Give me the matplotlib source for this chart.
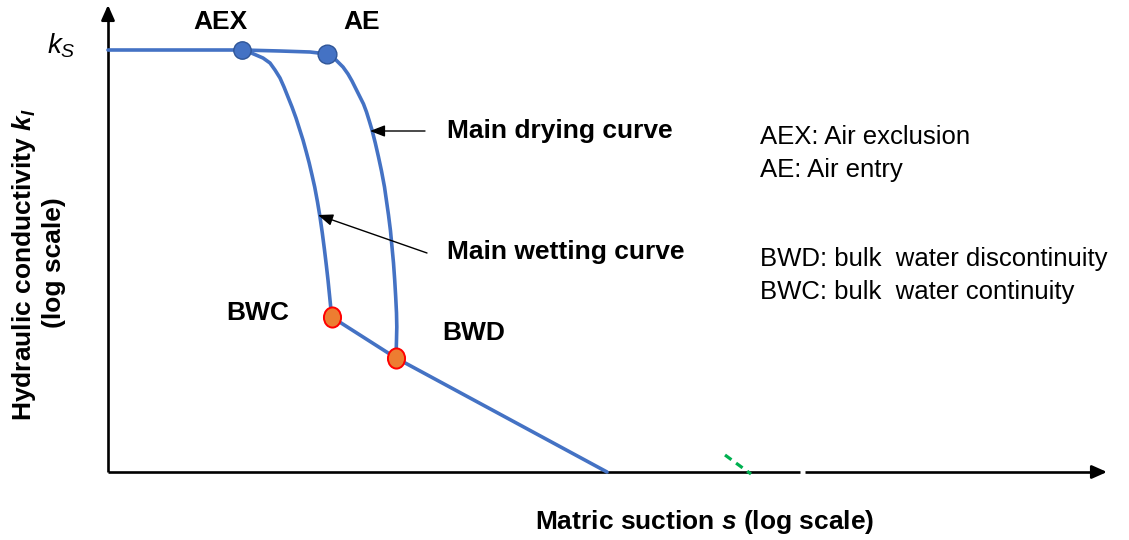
import matplotlib
matplotlib.use("Agg")
import matplotlib.pyplot as plt
from matplotlib.path import Path
from matplotlib.transforms import Affine2D

plt.rcParams["font.family"] = ["Liberation Sans", "DejaVu Sans"]
plt.rcParams["mathtext.fontset"] = "custom"
plt.rcParams["mathtext.rm"] = "Liberation Sans"
plt.rcParams["mathtext.it"] = "Liberation Sans:italic"
plt.rcParams["mathtext.bf"] = "Liberation Sans:bold:italic"

# schematic coordinates: x ~ log suction, y ~ log conductivity (origin at the axes corner)
ks = 422
plateau_x = [0, 134]
plateau_y = [ks, ks]

wet_x = [134, 141, 148, 155, 162, 167, 172, 176, 180, 184, 188, 191.5, 195,
         198.3, 201.2, 204, 206.7, 209.5, 212, 214.3, 216.5, 218.3, 220, 221.7, 222.8, 223.7]
wet_y = [422, 420, 417, 414, 409, 402, 394, 385, 375, 365, 354, 343, 332,
         320, 309, 297, 285, 270, 255, 239, 222, 207, 192, 175, 164, 155]

dry_x = [134, 172, 202, 219, 224, 228, 232, 235, 240, 244, 248, 252, 255.5, 258.5, 261.3,
         264, 267.3, 270.5, 273.5, 276.5, 278.5, 280.5, 282.5, 284, 285.5, 286.7, 287.7,
         288.5, 288.8, 288.5, 288]
dry_y = [422, 421, 420, 418, 415, 412, 408, 405, 398, 391, 383, 375, 368, 360, 351,
         342, 329, 315, 301, 285, 271, 257, 241, 225, 209, 192, 175,
         159, 145, 132, 114]

resid_x = [223.7, 288, 499]
resid_y = [155, 114, 0]

# characteristic points
aex = (134, 422)
ae = (219, 418)
bwc = (223.7, 155)
bwd = (288, 114)

x_max = 999
y_max = 467
gap = (692, 697)
green_x = [617, 643]
green_y = [17, -2]

line_blue = "#4472C4"

fig = plt.figure(figsize=(11.29, 5.4), dpi=100)
ax = fig.add_axes([0, 0, 1, 1])
ax.set_xlim(-108, 1021)
ax.set_ylim(-68, 472)
ax.axis("off")

# axes with arrow heads
ax.plot([0, 0], [0, y_max - 12], color="black", lw=1.9, solid_capstyle="butt")
ax.annotate("", xy=(0, y_max), xytext=(0, y_max - 14),
            arrowprops=dict(arrowstyle="-|>,head_length=0.9,head_width=0.4",
                            color="black", lw=1.9, shrinkA=0, shrinkB=0))
ax.plot([0, gap[0]], [0, 0], color="black", lw=1.9, solid_capstyle="butt")
ax.plot([gap[1], x_max - 12], [0, 0], color="black", lw=1.9, solid_capstyle="butt")
ax.annotate("", xy=(x_max, 0), xytext=(x_max - 14, 0),
            arrowprops=dict(arrowstyle="-|>,head_length=0.9,head_width=0.4",
                            color="black", lw=1.9, shrinkA=0, shrinkB=0))

ax.plot(green_x, green_y, color="#00B050", lw=2.3, ls=(0, (2.5, 1.8)))

# curves
for xs, ys in [(plateau_x, plateau_y), (wet_x, wet_y), (dry_x, dry_y), (resid_x, resid_y)]:
    ax.plot(xs, ys, color=line_blue, lw=2.6, solid_capstyle="round", solid_joinstyle="round")

ax.plot(*aex, marker="o", ms=12.5, mfc=line_blue, mec="#2F5597", mew=1.0)
ax.plot(*ae, marker="o", ms=13.5, mfc=line_blue, mec="#2F5597", mew=1.0)

oval = Path.unit_circle().transformed(Affine2D().scale(0.85, 1.0))
for p in (bwc, bwd):
    ax.plot(*p, marker=oval, ms=14.5, mfc="#ED7D31", mec="#FF0000", mew=1.4)

bold = dict(fontsize=19, fontweight="bold")
ax.text(112, 450, "AEX", ha="center", va="center", **bold)
ax.text(254, 450, "AE", ha="center", va="center", **bold)
ax.text(150, 159, "BWC", ha="center", va="center", **bold)
ax.text(366, 139, "BWD", ha="center", va="center", **bold)
ax.text(-47, 426, r"$k_S$", ha="center", va="center", fontsize=20)

ax.text(339, 341, "Main drying curve", ha="left", va="center", **bold)
ax.text(339, 220, "Main wetting curve", ha="left", va="center", **bold)
ax.annotate("", xy=(262, 341), xytext=(317, 341),
            arrowprops=dict(arrowstyle="-|>,head_length=0.9,head_width=0.35",
                            color="black", lw=1.0, shrinkA=0, shrinkB=0))
ax.annotate("", xy=(210, 257), xytext=(319, 219),
            arrowprops=dict(arrowstyle="-|>,head_length=0.9,head_width=0.35",
                            color="black", lw=1.0, shrinkA=0, shrinkB=0))

for y, s in [(335, "AEX: Air exclusion"), (302, "AE: Air entry"),
             (213, "BWD: bulk  water discontinuity"), (180, "BWC: bulk  water continuity")]:
    ax.text(652, y, s, ha="left", va="center", fontsize=18.5)

ax.text(597, -50, r"Matric suction $\mathbf{s}$ (log scale)", ha="center", va="center", **bold)
ax.text(-84, 207, r"Hydraulic conductivity $\mathbf{k_l}$", ha="center", va="center",
        rotation=90, **bold)
ax.text(-54, 209, "(log scale)", ha="center", va="center", rotation=90, **bold)

fig.savefig("out.png", dpi=100)
